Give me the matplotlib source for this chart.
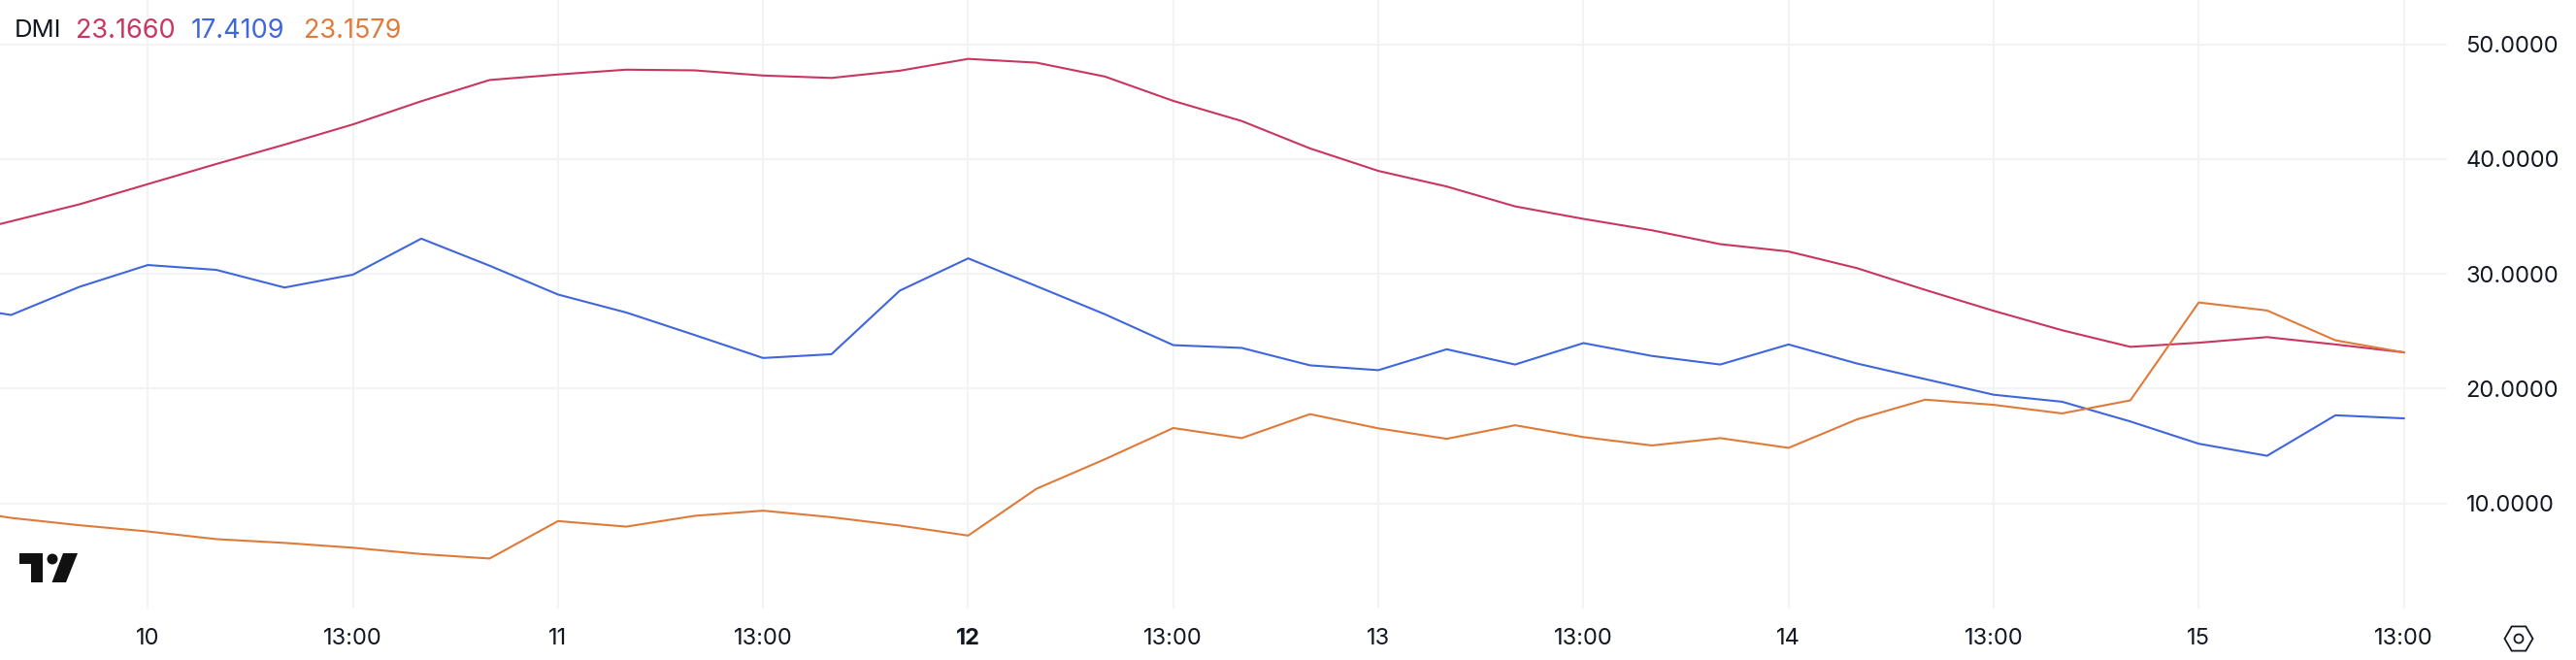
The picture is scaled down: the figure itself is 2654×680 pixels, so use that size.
import matplotlib
matplotlib.use('Agg')
import matplotlib.pyplot as plt
from matplotlib.patches import Polygon, Circle, RegularPolygon

plt.rcParams['font.family'] = ['Inter', 'DejaVu Sans']

# DMI values, one per 4h candle
plus_di = [33.11, 34.58, 36.06, 37.82, 39.57, 41.26, 43.02, 45.04, 46.89, 47.37,
           47.79, 47.73, 47.28, 47.07, 47.70, 48.73, 48.40, 47.19, 45.07, 43.32,
           40.93, 38.97, 37.61, 35.88, 34.79, 33.80, 32.59, 31.95, 30.50, 28.60,
           26.78, 25.09, 23.64, 24.00, 24.49, 23.85, 23.166]
minus_di = [27.34, 26.42, 28.87, 30.77, 30.35, 28.81, 29.93, 33.07, 30.71, 28.20,
            26.63, 24.67, 22.67, 23.00, 28.54, 31.35, 28.93, 26.48, 23.79, 23.55,
            22.03, 21.61, 23.43, 22.10, 23.97, 22.85, 22.10, 23.85, 22.19, 20.83,
            19.47, 18.86, 17.14, 15.20, 14.15, 17.68, 17.4109]
adx = [9.66, 8.74, 8.10, 7.56, 6.89, 6.56, 6.14, 5.59, 5.20, 8.46,
       7.98, 8.92, 9.37, 8.80, 8.07, 7.20, 11.28, 13.85, 16.57, 15.69,
       17.78, 16.54, 15.63, 16.81, 15.78, 15.05, 15.69, 14.84, 17.32, 19.04,
       18.59, 17.84, 18.98, 27.51, 26.81, 24.21, 23.1579]

x_ticks = [3, 6, 9, 12, 15, 18, 21, 24, 27, 30, 33, 36]
x_labels = ['10', '13:00', '11', '13:00', '12', '13:00', '13', '13:00', '14', '13:00', '15', '13:00']
y_ticks = [10, 20, 30, 40, 50]
legend_values = ['23.1660', '17.4109', '23.1579']

PINK = '#C93660'
BLUE = '#3F66DB'
ORANGE = '#DF7B3A'
TEXT = '#131722'
GRID = '#F2F3F5'
W, H = 2654, 680

fig = plt.figure(figsize=(W / 100, H / 100), dpi=100, facecolor='white')

# main pane, 2521x627 px from the top left corner
ax = fig.add_axes([0, 1 - 627 / H, 2521 / W, 627 / H])
x = list(range(len(plus_di)))
ax.plot(x, plus_di, color=PINK, lw=1.5, zorder=3)
ax.plot(x, minus_di, color=BLUE, lw=1.5, zorder=3)
ax.plot(x, adx, color=ORANGE, lw=1.5, zorder=4)
ax.set_xlim(0.838, 36.63)
ax.set_ylim(0.84, 53.86)

ax.set_xticks(x_ticks)
ax.set_xticklabels(x_labels)
ax.set_yticks(y_ticks)
ax.set_yticklabels([f'{v:.4f}' for v in y_ticks])
ax.yaxis.tick_right()
ax.tick_params(axis='x', length=0, pad=14.4, labelsize=17, labelcolor=TEXT)
ax.tick_params(axis='y', length=0, pad=14, labelsize=17, labelcolor=TEXT)
ax.get_xticklabels()[4].set_fontweight('bold')
ax.grid(True, color=GRID, lw=1.45)
ax.set_axisbelow(True)
for s in ax.spines.values():
    s.set_visible(False)

# overlay in pixel coordinates for legend, logo and settings icon
ov = fig.add_axes([0, 0, 1, 1], facecolor='none')
ov.set_xlim(0, W)
ov.set_ylim(H, 0)
ov.axis('off')

ov.text(15, 32, 'DMI', color=TEXT, fontsize=18.5, va='center', ha='left')
for px, val, col in zip([78.5, 197, 313], legend_values, [PINK, BLUE, ORANGE]):
    ov.text(px, 32, val, color=col, fontsize=19.5, va='center', ha='left')

# TradingView logo
logo = '#111111'
ov.add_patch(Polygon([(20, 570), (43.5, 570), (43.5, 600), (32, 600), (32, 581), (20, 581)],
                     closed=True, color=logo, lw=0))
ov.add_patch(Circle((54, 576), 5.5, color=logo, lw=0))
ov.add_patch(Polygon([(65, 570), (80, 570), (68, 600), (53.5, 600)], closed=True, color=logo, lw=0))

# settings icon
ov.add_patch(RegularPolygon((2595, 658), 6, radius=14.5, orientation=3.14159 / 6,
                            fill=False, ec=TEXT, lw=1.3))
ov.add_patch(Circle((2595, 658), 4.5, fill=False, ec=TEXT, lw=1.3))

fig.savefig('out.png', dpi=100)
